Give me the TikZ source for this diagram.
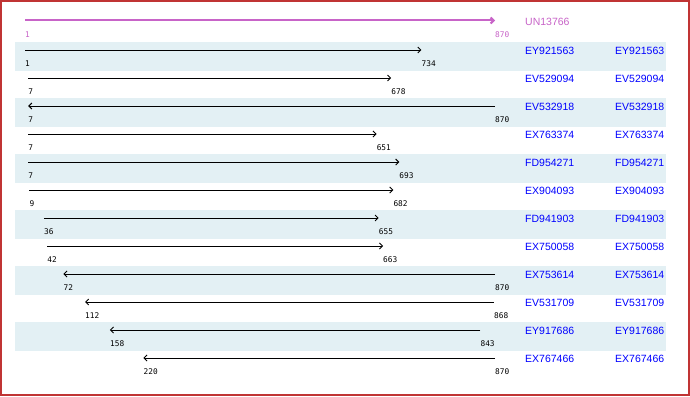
\documentclass[tikz,border=0pt]{standalone}
\usepackage{fontspec}
\setmainfont{Liberation Sans}
\newfontfamily\numfont{DejaVu Sans Mono}
\usetikzlibrary{arrows.meta}
\definecolor{bandc}{HTML}{E3F0F4}
\definecolor{framec}{HTML}{C03434}
\definecolor{refc}{HTML}{C864C8}
\definecolor{namec}{HTML}{0000FF}
\tikzset{
  hit/.style={draw=black, line width=0.9pt, -{Straight Barb[length=3pt,width=6pt]}},
  refhit/.style={draw=refc, line width=2pt, -{Straight Barb[length=3pt,width=6pt]}},
  numlbl/.style={font=\numfont\fontsize{7.8}{8}\selectfont, inner sep=0pt, anchor=west},
  namelbl/.style={font=\fontsize{10.5}{12}\selectfont, text=namec, inner sep=0pt, anchor=west},
  band/.style={fill=bandc, draw=none}
}
\begin{document}
\begin{tikzpicture}[x=1pt,y=-1pt]
\useasboundingbox (0,0) rectangle (690,396);
\fill[white] (0,0) rectangle (690,396);
% shaded bands
\foreach \r in {1,3,5,7,9,11}{
  \pgfmathsetmacro{\yy}{22+28*\r}
  \fill[band] (15,\yy-8) rectangle (666,\yy+21);
}
% reference row
\coordinate (r0s) at (25,20.5);
\coordinate (r0e) at (495,20.5);
\draw[refhit] (r0s) -- (r0e);
\node[numlbl, text=refc] (r0a) at (25,34.5) {1};
\node[numlbl, text=refc] (r0b) at (495,34.5) {870};
\node[namelbl, text=refc] (r0n) at (525,22) {UN13766};
% hits
\foreach \r/\nm/\s/\e/\dir in {
  1/EY921563/1/734/1,
  2/EV529094/7/678/1,
  3/EV532918/7/870/0,
  4/EX763374/7/651/1,
  5/FD954271/7/693/1,
  6/EX904093/9/682/1,
  7/FD941903/36/655/1,
  8/EX750058/42/663/1,
  9/EX753614/72/870/0,
  10/EV531709/112/868/0,
  11/EY917686/158/843/0,
  12/EX767466/220/870/0}{
  \pgfmathsetmacro{\yy}{22+28*\r}
  \pgfmathsetmacro{\xs}{25+(\s-1)*0.54085}
  \pgfmathsetmacro{\xe}{25+(\e-1)*0.54085}
  \coordinate (s\r) at (\xs,\yy);
  \coordinate (e\r) at (\xe,\yy);
  \ifnum\dir=1
    \draw[hit] (s\r) -- (e\r);
  \else
    \draw[hit] (e\r) -- (s\r);
  \fi
  \node[numlbl] (a\r) at (\xs,\yy+14) {\s};
  \node[numlbl] (b\r) at (\xe,\yy+14) {\e};
  \node[namelbl] (n\r) at (525,\yy+1) {\nm};
  \node[namelbl] (m\r) at (615,\yy+1) {\nm};
}
\draw[framec, line width=2pt] (1,1) rectangle (689,395);
\end{tikzpicture}
\end{document}
